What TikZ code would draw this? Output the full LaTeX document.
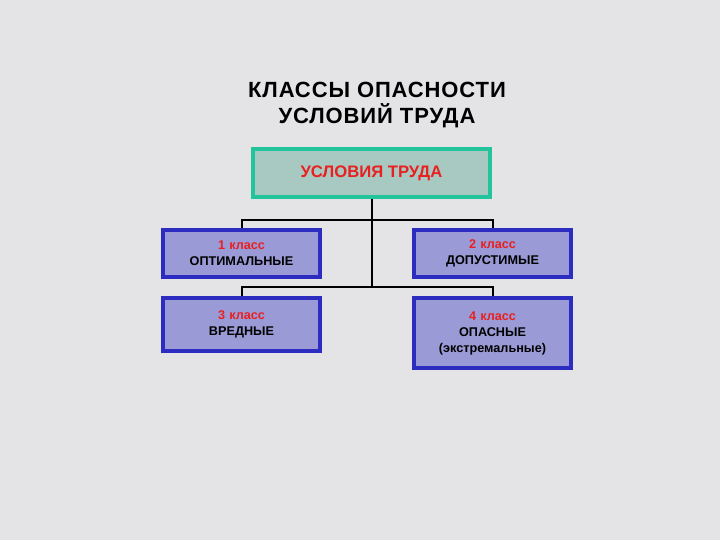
\documentclass[tikz,border=0pt]{standalone}
\usepackage{fontspec}
\setmainfont{Liberation Sans}
\definecolor{bg}{HTML}{E4E4E6}
\definecolor{topfill}{HTML}{A8C8C2}
\definecolor{topdraw}{HTML}{22C49C}
\definecolor{boxfill}{HTML}{9A9AD6}
\definecolor{boxdraw}{HTML}{2C2CC0}
\definecolor{redt}{HTML}{E82020}
\begin{document}
\begin{tikzpicture}[x=0.75pt,y=-0.75pt,
  topbox/.style={draw=topdraw,fill=topfill,line width=3pt,minimum width=178pt,minimum height=36pt,font=\bfseries\fontsize{12.5}{14}\selectfont,text=redt},
  cbox/.style={draw=boxdraw,fill=boxfill,line width=3pt,text width=114pt,align=center,font=\bfseries\fontsize{9.5}{12}\selectfont,inner sep=2pt},
  conn/.style={line width=1.5pt}]
\fill[bg] (0,0) rectangle (720,540);
\useasboundingbox (0,0) rectangle (720,540);
\node[font=\bfseries\fontsize{16.5}{19}\selectfont,align=center] (title) at (377,105) {\addfontfeature{LetterSpace=4}КЛАССЫ ОПАСНОСТИ\\\addfontfeature{LetterSpace=4}УСЛОВИЙ ТРУДА};
\node[topbox] (top) at (371.5,173) {УСЛОВИЯ ТРУДА};
\node[cbox,minimum height=35pt] (c1) at (241.5,253.5) {\textcolor{redt}{1 класс}\\ОПТИМАЛЬНЫЕ};
\node[cbox,minimum height=35pt] (c2) at (492.5,253.5) {\textcolor{redt}{2 класс}\\ДОПУСТИМЫЕ};
\node[cbox,minimum height=39.75pt] (c3) at (241.5,324.5) {\textcolor{redt}{3 класс}\\ВРЕДНЫЕ};
\node[cbox,minimum height=52.5pt] (c4) at (492.5,333) {\textcolor{redt}{4 класс}\\ОПАСНЫЕ\\(экстремальные)};
\coordinate (j1) at (371.5,220);
\coordinate (j2) at (371.5,287);
\draw[conn] (top.south) -- (j2);
\draw[conn] (c1.north) -- (c1.north |- j1) -- (c2.north |- j1) -- (c2.north);
\draw[conn] (c3.north) -- (c3.north |- j2) -- (c4.north |- j2) -- (c4.north);
\end{tikzpicture}
\end{document}
